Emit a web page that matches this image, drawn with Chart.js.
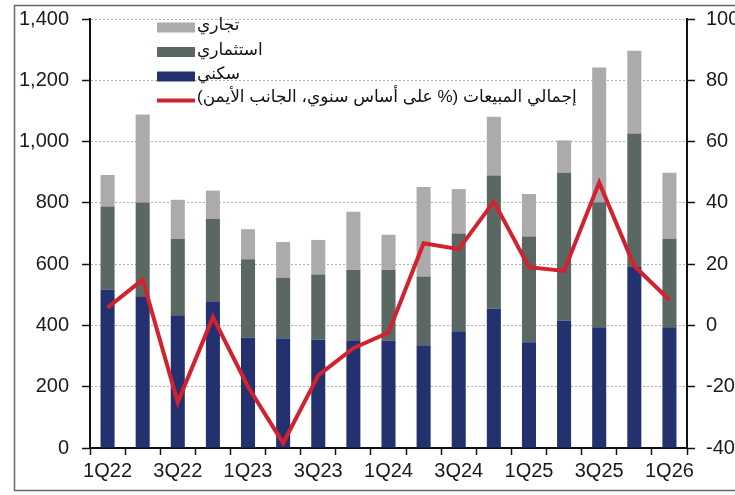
<!DOCTYPE html>
<html>
<head>
<meta charset="utf-8">
<script src="https://cdn.jsdelivr.net/npm/chart.js@4/dist/chart.umd.min.js"></script>
<style>
html,body{margin:0;padding:0;background:#fff;}
#wrap{position:relative;width:735px;height:495px;}
</style>
</head>
<body>
<div id="wrap"><canvas id="c"></canvas></div>
<script>
const quarters = ["1Q22","2Q22","3Q22","4Q22","1Q23","2Q23","3Q23","4Q23","1Q24","2Q24","3Q24","4Q24","1Q25","2Q25","3Q25","4Q25","1Q26"];
const residential = [517, 495, 433, 479, 361, 357, 354, 352, 351, 335, 381, 455, 345, 416, 394, 591, 394];
const investment  = [271, 306, 250, 269, 255, 199, 212, 230, 231, 225, 319, 434, 345, 482, 408, 435, 289];
const commercial  = [103, 287, 127,  92,  98, 116, 113, 189, 114, 292, 145, 192, 139, 106, 440, 270, 215];
const totalYoY    = [5.8, 14.9, -25.1, 2.7, -20.0, -38.4, -16.3, -7.4, -2.3, 26.8, 24.9, 40.4, 19.0, 17.8, 46.6, 19.4, 8.3];
const leftTicks  = {min: 0, max: 1400, step: 200};
const rightTicks = {min: -40, max: 100, step: 20};
const labels = {
  commercial: "تجاري",
  investment: "استثماري",
  residential: "سكني",
  total: "إجمالي المبيعات (% على أساس سنوي، الجانب الأيمن)"
};

const COL = {res:'#23326f', inv:'#5b6762', com:'#adaaad', line:'#d2212f'};
const FONT = "'Liberation Sans', Arial, sans-serif";
const AR_FONT = "'Liberation Sans', 'DejaVu Sans', 'Noto Sans', sans-serif";

const frame = {
  id:'frame',
  beforeDraw(chart){
    const ctx = chart.ctx;
    ctx.save();
    ctx.strokeStyle = '#666';
    ctx.lineWidth = 1.5;
    ctx.beginPath();
    ctx.moveTo(760, 5.5); ctx.lineTo(14.5, 5.5); ctx.lineTo(14.5, 490.5); ctx.lineTo(760, 490.5);
    ctx.stroke();
    ctx.restore();
  }
};

const legendPlugin = {
  id:'customLegend',
  afterDraw(chart){
    const ctx = chart.ctx;
    const order = [2, 1, 0, 3];
    const rows = [27.5, 52, 76.5, 99.5];
    const sx = 157, sw = 38, sh = 10;
    ctx.save();
    ctx.direction = 'rtl';
    ctx.textAlign = 'left';
    ctx.textBaseline = 'middle';
    ctx.fillStyle = '#111';
    ctx.font = '17px ' + AR_FONT;
    order.forEach((di, k) => {
      const ds = chart.data.datasets[di];
      const y = rows[k];
      if (ds.type === 'line') {
        ctx.strokeStyle = ds.borderColor;
        ctx.lineWidth = 4;
        ctx.beginPath(); ctx.moveTo(sx, y + 1); ctx.lineTo(sx + sw, y + 1); ctx.stroke();
      } else {
        ctx.fillStyle = ds.backgroundColor;
        ctx.fillRect(sx, y - sh/2, sw, sh);
      }
      ctx.fillStyle = '#111';
      ctx.fillText(ds.label, sx + sw + 2, y - 2);
    });
    ctx.restore();
  }
};

new Chart(document.getElementById('c'), {
  data: {
    labels: quarters,
    datasets: [
      {type:'bar', label: labels.residential, data: residential, backgroundColor: COL.res, stack:'s', order:1, barPercentage:0.4, categoryPercentage:1},
      {type:'bar', label: labels.investment, data: investment, backgroundColor: COL.inv, stack:'s', order:1, barPercentage:0.4, categoryPercentage:1},
      {type:'bar', label: labels.commercial, data: commercial, backgroundColor: COL.com, stack:'s', order:1, barPercentage:0.4, categoryPercentage:1},
      {type:'line', label: labels.total, data: totalYoY, yAxisID:'y1', borderColor: COL.line, backgroundColor: COL.line, borderWidth:4, pointRadius:0, tension:0, order:0, borderJoinStyle:'miter'}
    ]
  },
  options: {
    responsive: true,
    maintainAspectRatio: false,
    animation: false,
    layout: {padding: {top: 19, left: 0, right: 0, bottom: 0}},
    plugins: {legend: {display:false}, tooltip: {enabled:false}},
    scales: {
      x: {
        stacked: true,
        offset: true,
        grid: {offset: true, drawOnChartArea: false, drawTicks: true, tickLength: 7, tickColor: '#111', tickWidth: 1.5},
        border: {display: true, color: '#111', width: 2},
        ticks: {autoSkip: false, maxRotation: 0, minRotation: 0, padding: 4, color: '#1a1a1a', font: {family: FONT, size: 20},
          callback: function(v, i){ return i % 2 === 0 ? this.getLabelForValue(v) : ''; }},
        afterFit(s){ s.height = 47; s.paddingLeft = 0; s.paddingRight = 0; }
      },
      y: {
        stacked: true,
        position: 'left',
        min: leftTicks.min, max: leftTicks.max,
        grid: {color: '#b0b0b0', lineWidth: 1, tickColor: '#111', tickLength: 8, tickWidth: 1.5, tickBorderDash: []},
        border: {display: true, color: '#111', width: 2, dash: [2, 2]},
        ticks: {stepSize: leftTicks.step, padding: 13, color: '#1a1a1a', font: {family: FONT, size: 20},
          callback: v => v.toLocaleString('en-US')},
        afterFit(s){ s.width = 90; s.paddingTop = 0; s.paddingBottom = 0; }
      },
      y1: {
        position: 'right',
        min: rightTicks.min, max: rightTicks.max,
        grid: {drawOnChartArea: false, tickColor: '#111', tickLength: 8, tickWidth: 1.5},
        border: {display: true, color: '#111', width: 2},
        ticks: {stepSize: rightTicks.step, padding: 11, color: '#1a1a1a', font: {family: FONT, size: 20}},
        afterFit(s){ s.width = 48; s.paddingTop = 0; s.paddingBottom = 0; }
      }
    }
  },
  plugins: [frame, legendPlugin]
});
</script>
</body>
</html>
